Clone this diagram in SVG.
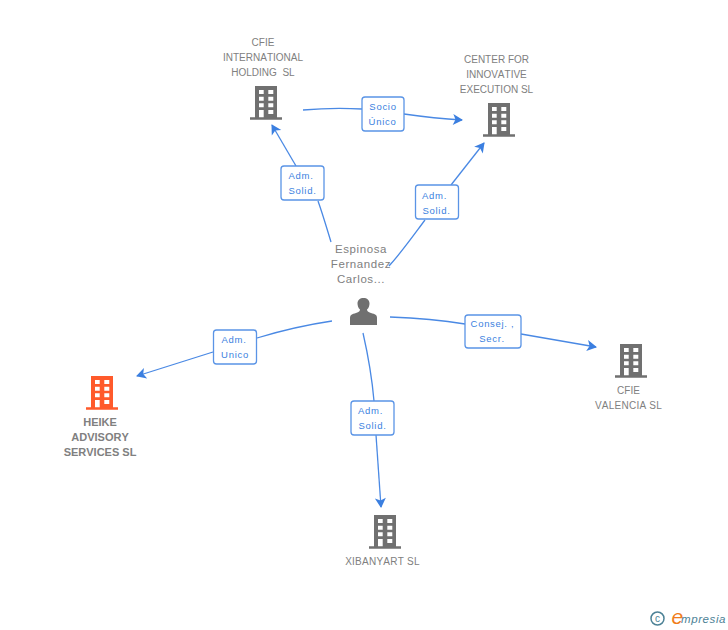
<svg xmlns="http://www.w3.org/2000/svg" width="728" height="630" viewBox="0 0 728 630">
<style>
text{font-family:"Liberation Sans",Arial,sans-serif;font-kerning:none}
.n{font-size:10px;fill:#808080;text-anchor:middle}
.w{letter-spacing:.25px}
.b{font-size:11px;font-weight:bold;fill:#808080;text-anchor:middle}
.p{font-size:11.5px;fill:#808080;text-anchor:middle;letter-spacing:.6px}
.l{font-size:9.500px;fill:#3b7fe0;text-anchor:middle;letter-spacing:.7px}
.c{fill:none;stroke:#4a89e4;stroke-width:1.3}
.r{fill:#fff;stroke:#5a94e6;stroke-width:1.3}
</style>
<defs>
<marker id="a" markerUnits="userSpaceOnUse" markerWidth="14" markerHeight="14" refX="10" refY="7" orient="auto"><path d="M1 1.500L11 7L1 12.500L3.500 7Z" fill="#3b7fe0"/></marker>
<symbol id="bld" width="32" height="34" viewBox="0 0 32 34" overflow="visible">
<path fill-rule="evenodd" d="M5 0H27V31.300H32V33.700H0V31.300H5ZM9 4V8H13.700V4ZM18.300 4V8H23.300V4ZM9 10.700V14.700H13.700V10.700ZM18.300 10.700V14.700H23.300V10.700ZM9 17.300V21.300H13.700V17.300ZM18.300 17.300V21.300H23.300V17.300ZM9 24V31.300H13.700V24ZM18.300 24V28H23.300V24Z"/>
</symbol>
</defs>
<g id="connectors">
<path class="c" marker-end="url(#a)" d="M303 110C325 108 345 108 362 109M404 114C425 117 445 119 462 120"/>
<path class="c" marker-end="url(#a)" d="M296 166L272 125"/>
<path class="c" d="M318 201C323 215 327 229 331 242"/>
<path class="c" marker-end="url(#a)" d="M451 185L484 143"/>
<path class="c" d="M425 220C413 236 401 253 389 266"/>
<path class="c" marker-end="url(#a)" d="M213 352L137 376"/>
<path class="c" d="M257 338C280 331 305 325 332 321"/>
<path class="c" d="M390 317C415 318 440 320 465 324"/>
<path class="c" marker-end="url(#a)" d="M521 334L596 347"/>
<path class="c" d="M363 333C368 355 372 378 374 401"/>
<path class="c" marker-end="url(#a)" d="M376 435L381 507"/>
</g>
<g id="edge-socio"><rect class="r" x="362" y="97" width="42" height="34" rx="3"/><text class="l" x="383" y="110">Socio</text><text class="l" x="382.500" y="125">Único</text></g>
<g id="edge-adm1"><rect class="r" x="281" y="166" width="43" height="34" rx="3"/><text class="l" x="301" y="179">Adm.</text><text class="l" x="302.500" y="194">Solid.</text></g>
<g id="edge-adm2"><rect class="r" x="415.500" y="185" width="43" height="34" rx="3"/><text class="l" x="434.500" y="199">Adm.</text><text class="l" x="436.500" y="214">Solid.</text></g>
<g id="edge-adm3"><rect class="r" x="213.500" y="330" width="43" height="34" rx="3"/><text class="l" x="234" y="343">Adm.</text><text class="l" x="235" y="358">Unico</text></g>
<g id="edge-consej"><rect class="r" x="465" y="315" width="56" height="33" rx="3"/><text class="l" x="492.500" y="327">Consej. ,</text><text class="l" x="492" y="342">Secr.</text></g>
<g id="edge-adm4"><rect class="r" x="351" y="401" width="43" height="34" rx="3"/><text class="l" x="370.500" y="414">Adm.</text><text class="l" x="372.500" y="429">Solid.</text></g>
<g id="node-cfie-int"><use href="#bld" x="250" y="86" fill="#707070"/><text class="n" x="263" y="46">CFIE</text><text class="n" x="263" y="61">INTERNATIONAL</text><text class="n" x="263" y="76" xml:space="preserve">HOLDING  SL</text></g>
<g id="node-center"><use href="#bld" x="483" y="103" fill="#707070"/><text class="n" x="496.500" y="63">CENTER FOR</text><text class="n" x="496.500" y="78">INNOVATIVE</text><text class="n" x="496.500" y="93">EXECUTION SL</text></g>
<g id="node-heike"><use href="#bld" x="86" y="376" fill="#ff5a2b"/><text class="b" x="100" y="426">HEIKE</text><text class="b" x="100" y="441">ADVISORY</text><text class="b" x="100" y="456">SERVICES SL</text></g>
<g id="node-valencia"><use href="#bld" x="615" y="344" fill="#707070"/><text class="n" x="628.500" y="394">CFIE</text><text class="n w" x="628.500" y="409">VALENCIA SL</text></g>
<g id="node-xibanyart"><use href="#bld" x="369" y="515" fill="#707070"/><text class="n w" x="382.500" y="565">XIBANYART SL</text></g>
<g id="node-person"><text class="p" x="361" y="253">Espinosa</text><text class="p" x="361" y="268">Fernandez</text><text class="p" x="361" y="283">Carlos...</text>
<path fill="#707070" d="M350 325V318C350 315 352 314 356 313C359 312 360 311 360 309.500C358 308 357.500 305 357.500 303.500C357.500 300 360 298 363.500 298C367 298 369.500 300 369.500 303.500C369.500 305 369 308 367 309.500C367 311 368 312 371 313C375 314 377 315 377 318V325Z"/></g>
<g id="logo"><circle cx="657.500" cy="618.500" r="6.500" fill="none" stroke="#4d8296" stroke-width="1.500"/><text x="657.500" y="622" font-size="10" fill="#4d8296" text-anchor="middle">c</text><text x="671.500" y="624" font-size="21" fill="#f07d1a" font-style="italic" font-family="Liberation Serif">e</text><text x="681" y="623" font-size="11.500" fill="#4d8296" font-style="italic" letter-spacing=".6">mpresia</text></g>
</svg>
